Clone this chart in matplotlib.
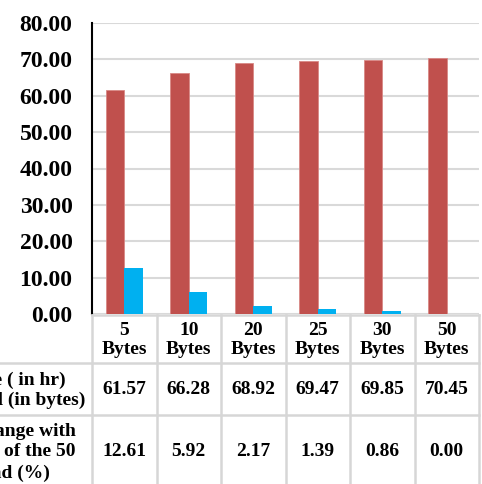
import matplotlib
matplotlib.use("Agg")
import matplotlib.pyplot as plt
from matplotlib.transforms import blended_transform_factory
from matplotlib.lines import Line2D

categories = ["5\nBytes", "10\nBytes", "20\nBytes", "25\nBytes", "30\nBytes", "50\nBytes"]
lifetime = [61.57, 66.28, 68.92, 69.47, 69.85, 70.45]
pct_change = [12.61, 5.92, 2.17, 1.39, 0.86, 0.00]
yticks = [0, 10, 20, 30, 40, 50, 60, 70, 80]
row1_label = ["Lifetime ( in hr)", "with Payload (in bytes)"]
row2_label = ["Percentage change with", "respect of the 50", "bytes payload (%)"]

W, H = 482, 484
plt.rcParams["font.family"] = ["Liberation Serif", "DejaVu Serif"]
plt.rcParams["font.weight"] = "bold"

fig = plt.figure(figsize=(W / 100, H / 100), dpi=100)
ax_left, ax_right, ax_top, ax_bot = 92, 479, 23, 314
ax = fig.add_axes([ax_left / W, 1 - ax_bot / H, (ax_right - ax_left) / W, (ax_bot - ax_top) / H])

red = "#C0504D"
blue = "#00B0F0"
grid = "#D9D9D9"
n = len(categories)
x = list(range(n))
bw = 0.286
ax.bar([i - bw / 2 for i in x], lifetime, width=bw, color=red, edgecolor="#D98885", linewidth=0.6, zorder=3)
ax.bar([i + bw / 2 for i in x], pct_change, width=bw, color=blue, zorder=3)

ax.set_xlim(-0.5, n - 0.5)
ax.set_ylim(0, 80)
ax.set_yticks(yticks)
ax.set_yticklabels([f"{v:.2f}" for v in yticks], fontsize=17, fontweight="bold")
ax.tick_params(axis="y", length=0, pad=14)
ax.set_xticks([])
ax.yaxis.grid(True, color=grid, linewidth=1.5, zorder=0)
for s in ["top", "right", "bottom"]:
    ax.spines[s].set_visible(False)
ax.spines["left"].set_color("black")
ax.spines["left"].set_linewidth(1.5)
ax.spines["left"].set_zorder(4)

# Data table below the plot, columns aligned with the categories
def fy(p):
    return 1 - p / H
tr = blended_transform_factory(ax.transData, fig.transFigure)
tcol = "#D6D6D6"
rows = [315, 363, 415, 484]
# horizontal rules
fig.add_artist(Line2D([ax_left / W, ax_right / W], [fy(315), fy(315)], color=tcol, lw=1.8))
for r in rows[1:3]:
    fig.add_artist(Line2D([0, ax_right / W], [fy(r), fy(r)], color=tcol, lw=1.8))
# vertical rules
for i in range(n + 1):
    fig.add_artist(Line2D([i - 0.5, i - 0.5], [fy(315), fy(484)], color=tcol, lw=1.8, transform=tr))

for i in range(n):
    fig.text(i, fy(340), categories[i], transform=tr, ha="center", va="center",
             fontsize=14, fontweight="bold", linespacing=1.2)
    fig.text(i, fy(390), f"{lifetime[i]:.2f}", transform=tr, ha="center", va="center",
             fontsize=14, fontweight="bold")
    fig.text(i, fy(452), f"{pct_change[i]:.2f}", transform=tr, ha="center", va="center",
             fontsize=14, fontweight="bold")

for txt, y, xr in zip(row1_label, [380, 400], [66, 85]):
    fig.text(xr / W, fy(y), txt, ha="right", va="center", fontsize=14, fontweight="bold")
for txt, y, xr in zip(row2_label, [432, 452, 473], [76, 76, 50]):
    fig.text(xr / W, fy(y), txt, ha="right", va="center", fontsize=14, fontweight="bold")

fig.savefig("out.png", dpi=100)
